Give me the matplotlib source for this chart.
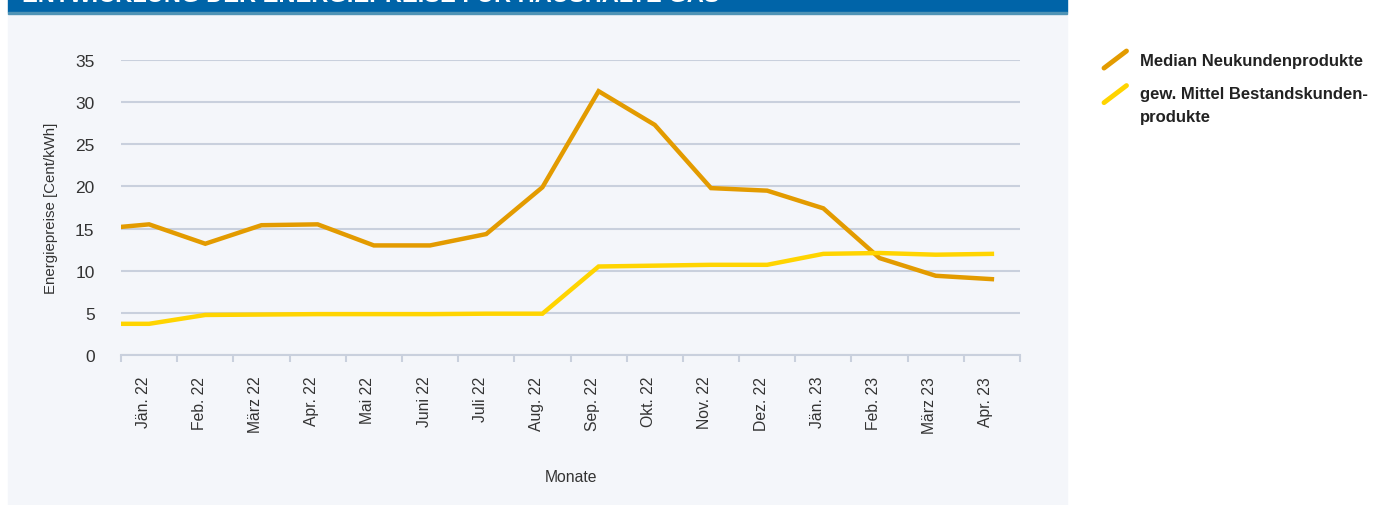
import numpy as np
import matplotlib
matplotlib.use("Agg")
import matplotlib.pyplot as plt
from matplotlib.lines import Line2D
from matplotlib.patches import Rectangle
from matplotlib.legend_handler import HandlerBase
import matplotlib.transforms as mtransforms

plt.rcParams['font.family'] = ['Liberation Sans', 'DejaVu Sans']

# data (Dez. 21 lies outside the axis and is clipped, the line enters from the left)
months = ['Dez. 21', 'Jän. 22', 'Feb. 22', 'März 22', 'Apr. 22', 'Mai 22', 'Juni 22',
          'Juli 22', 'Aug. 22', 'Sep. 22', 'Okt. 22', 'Nov. 22', 'Dez. 22',
          'Jän. 23', 'Feb. 23', 'März 23', 'Apr. 23']
neukunden = [14.9, 15.5, 13.2, 15.4, 15.5, 13.0, 13.0, 14.35, 19.9, 31.3, 27.3,
             19.8, 19.5, 17.4, 11.5, 9.4, 9.0]
bestand = [3.7, 3.7, 4.75, 4.8, 4.85, 4.85, 4.85, 4.9, 4.9, 10.5, 10.6, 10.7,
           10.7, 12.0, 12.1, 11.9, 12.0]
shown = months[1:]

c_orange = '#e39b00'
c_yellow = '#ffd400'
c_grid = '#c9d0dd'
c_panel = '#f4f6fa'
c_text = '#333333'

W, H = 1373, 506
fig = plt.figure(figsize=(W / 100, H / 100), dpi=100)

# background panel and blue banner
fig.patches.append(Rectangle((8 / W, 0), (1067 - 8) / W, 1 - 15 / H,
                             transform=fig.transFigure, color=c_panel, zorder=0))
fig.patches.append(Rectangle((8 / W, 1 - 13 / H), (1067 - 8) / W, 13 / H,
                             transform=fig.transFigure, color='#0064a8', zorder=0))
fig.patches.append(Rectangle((8 / W, 1 - 15 / H), (1067 - 8) / W, 2 / H,
                             transform=fig.transFigure, color='#4f93b5', zorder=0))
fig.text(22 / W, 1 - 1.5 / H, 'ENTWICKLUNG DER ENERGIEPREISE FÜR HAUSHALTE GAS',
         color='white', fontsize=17, fontweight='bold', va='baseline', ha='left')

ax = fig.add_axes([121 / W, 150 / H, (1020 - 121) / W, (356 - 61) / H])
ax.set_facecolor('none')
ax.set_zorder(2)

x = np.arange(len(months)) - 1
ax.plot(x, neukunden, color=c_orange, lw=3.2, solid_joinstyle='miter',
        label='Median Neukundenprodukte', zorder=3)
ax.plot(x, bestand, color=c_yellow, lw=3.2, solid_joinstyle='miter',
        label='gew. Mittel Bestandskunden-\nprodukte', zorder=3)

ax.set_xlim(-0.5, len(shown) - 0.5)
ax.set_ylim(0, 35)
ax.set_yticks(np.arange(0, 36, 5))
ax.yaxis.grid(True, color=c_grid, lw=1.5)
ax.set_axisbelow(True)
for s in ['top', 'right', 'left']:
    ax.spines[s].set_visible(False)
ax.spines['bottom'].set_color(c_grid)
ax.spines['bottom'].set_linewidth(1.5)

ax.set_xticks(np.arange(len(shown)))
ax.set_xticklabels(shown, rotation=90)
ax.set_xticks(np.arange(len(shown) + 1) - 0.5, minor=True)
ax.tick_params(axis='x', which='major', length=0, pad=15, labelsize=11.3, labelcolor=c_text)
ax.tick_params(axis='x', which='minor', length=5, width=1.5, color=c_grid)
ax.tick_params(axis='y', length=0, pad=19, labelsize=12.5, labelcolor=c_text)
off = mtransforms.ScaledTranslation(-6 / 100, 0, fig.dpi_scale_trans)
for lab in ax.get_xticklabels():
    lab.set_transform(lab.get_transform() + off)

ax.set_xlabel('Monate', fontsize=11.3, color=c_text, labelpad=26)
ax.set_ylabel('Energiepreise [Cent/kWh]', fontsize=10.8, color=c_text, labelpad=12)


class DiagHandler(HandlerBase):
    def create_artists(self, legend, orig_handle, xdescent, ydescent,
                       width, height, fontsize, trans):
        dy = getattr(orig_handle, 'dy', 0) * fontsize
        ln = Line2D([-xdescent, -xdescent + width],
                    [-ydescent + dy, -ydescent + height + dy],
                    color=orig_handle.get_color(), lw=3.5, solid_capstyle='round')
        ln.set_transform(trans)
        return [ln]


handles, labels = ax.get_legend_handles_labels()
handles[1].dy = 0.7
leg = fig.legend(handles, labels, loc='upper left',
                 bbox_to_anchor=(1089 / W, 1 - 37 / H),
                 handler_map={Line2D: DiagHandler()}, frameon=False,
                 prop={'size': 12, 'weight': 'bold'}, handlelength=1.35,
                 handleheight=1.2, handletextpad=0.8, labelspacing=1.1)
for t in leg.get_texts():
    t.set_color('#222222')
    t.set_linespacing(1.65)

fig.savefig('out.png', dpi=100)
